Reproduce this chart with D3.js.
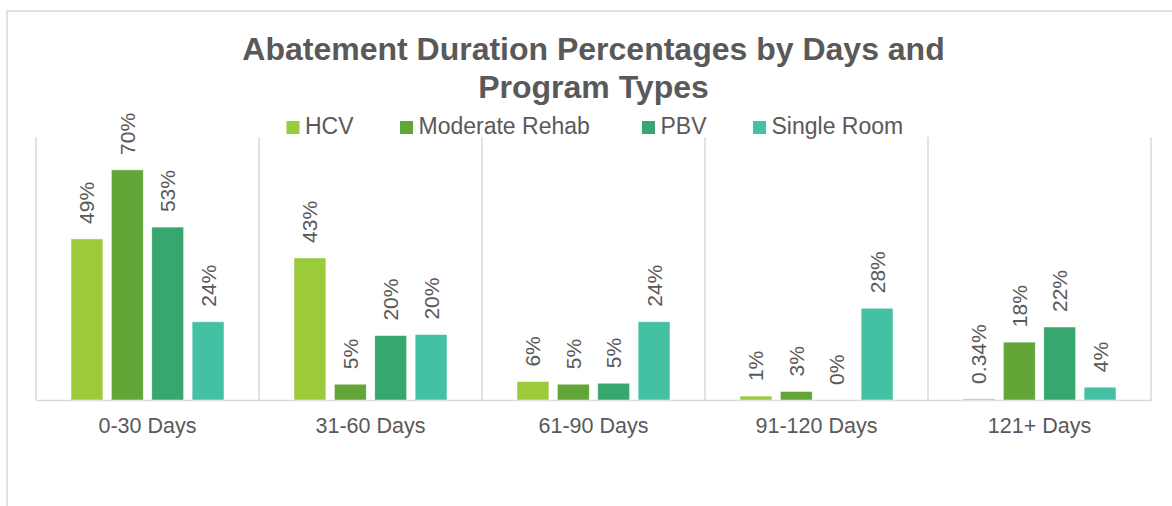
<!DOCTYPE html>
<html><head><meta charset="utf-8">
<script src="https://cdn.jsdelivr.net/npm/d3@7"></script>
<style>
html,body{margin:0;padding:0;background:#fff;}
svg{display:block;font-family:"Liberation Sans",Arial,sans-serif;}
</style></head>
<body><svg id="c" width="1172" height="506"></svg>
<script>
const categories = ["0-30 Days","31-60 Days","61-90 Days","91-120 Days","121+ Days"];
const seriesNames = ["HCV","Moderate Rehab","PBV","Single Room"];
const hcv = [49, 43.2, 5.6, 1.2, 0.34];
const moderateRehab = [70, 4.8, 4.8, 2.6, 17.6];
const pbv = [52.6, 19.6, 5.1, 0, 22.2];
const singleRoom = [23.8, 19.9, 23.8, 27.9, 3.9];
const colors = ["#9BCA3B","#63A537","#37A76F","#44C1A3"];
const titleLines = ["Abatement Duration Percentages by Days and","Program Types"];

const seriesValues = [hcv, moderateRehab, pbv, singleRoom];
const svg = d3.select("#c");
const textColor = "#595959", gridColor = "#D9D9D9";

// chart border
svg.append("rect").attr("x",7).attr("y",11).attr("width",1200).attr("height",600)
  .attr("fill","none").attr("stroke",gridColor).attr("stroke-width",1.5);

const x0 = d3.scaleBand().domain(categories).range([36,1151]).paddingInner(0).paddingOuter(0);
const x1 = d3.scaleBand().domain(seriesNames).range([35,188]).paddingInner(0.21).paddingOuter(0);
const y = d3.scaleLinear().domain([0,80]).range([400,137]);

// title
const t = svg.append("text").attr("text-anchor","middle").attr("font-size",32).attr("font-weight","bold").attr("fill",textColor);
titleLines.forEach((l,i)=>t.append("tspan").attr("x",593.5).attr("y",60+i*38).text(l));

// separators
const bounds = categories.map(c=>x0(c)).concat([x0.range()[1]]);
svg.append("g").selectAll("line").data(bounds).join("line")
  .attr("x1",d=>d).attr("x2",d=>d).attr("y1",y(80)).attr("y2",y(0))
  .attr("stroke",gridColor).attr("stroke-width",1.5);

// category axis
const ax = svg.append("g").attr("transform",`translate(0,${y(0)})`)
  .call(d3.axisBottom(x0).tickSize(0).tickPadding(0));
ax.select(".domain").attr("stroke",gridColor).attr("stroke-width",1.5);
ax.selectAll("text").attr("font-size",21.5).attr("fill",textColor).attr("font-family","Liberation Sans, Arial, sans-serif")
  .attr("dy",null).attr("y",33.3);

// bars
const fmt = v => v===0 ? "0%" : (v<1 ? v.toFixed(2)+"%" : Math.round(v)+"%");
const groups = svg.append("g").selectAll("g").data(categories).join("g")
  .attr("transform",c=>`translate(${x0(c)},0)`);
groups.each(function(c,ci){
  const g = d3.select(this);
  const data = seriesNames.map((s,si)=>({s,si,v:seriesValues[si][ci]}));
  g.selectAll("rect").data(data).join("rect")
    .attr("x",d=>x1(d.s)).attr("width",x1.bandwidth())
    .attr("y",d=>y(d.v)).attr("height",d=>y(0)-y(d.v))
    .attr("fill",d=>colors[d.si]).attr("stroke","#ffffff").attr("stroke-opacity",0.6).attr("stroke-width",0.8);
  g.selectAll("text").data(data).join("text")
    .attr("transform",d=>`translate(${x1(d.s)+x1.bandwidth()/2+7.5},${y(d.v)-15}) rotate(-90)`)
    .attr("font-size",21).attr("fill",textColor).attr("text-anchor","start")
    .text(d=>fmt(d.v));
});

// legend
const legX = [286.5, 400, 642, 753];
const leg = svg.append("g").selectAll("g").data(seriesNames).join("g")
  .attr("transform",(d,i)=>`translate(${legX[i]},0)`);
leg.append("rect").attr("x",0).attr("y",121).attr("width",13).attr("height",13).attr("fill",(d,i)=>colors[i]);
leg.append("text").attr("x",18.5).attr("y",134).attr("font-size",23).attr("fill",textColor).text(d=>d);
</script></body></html>
